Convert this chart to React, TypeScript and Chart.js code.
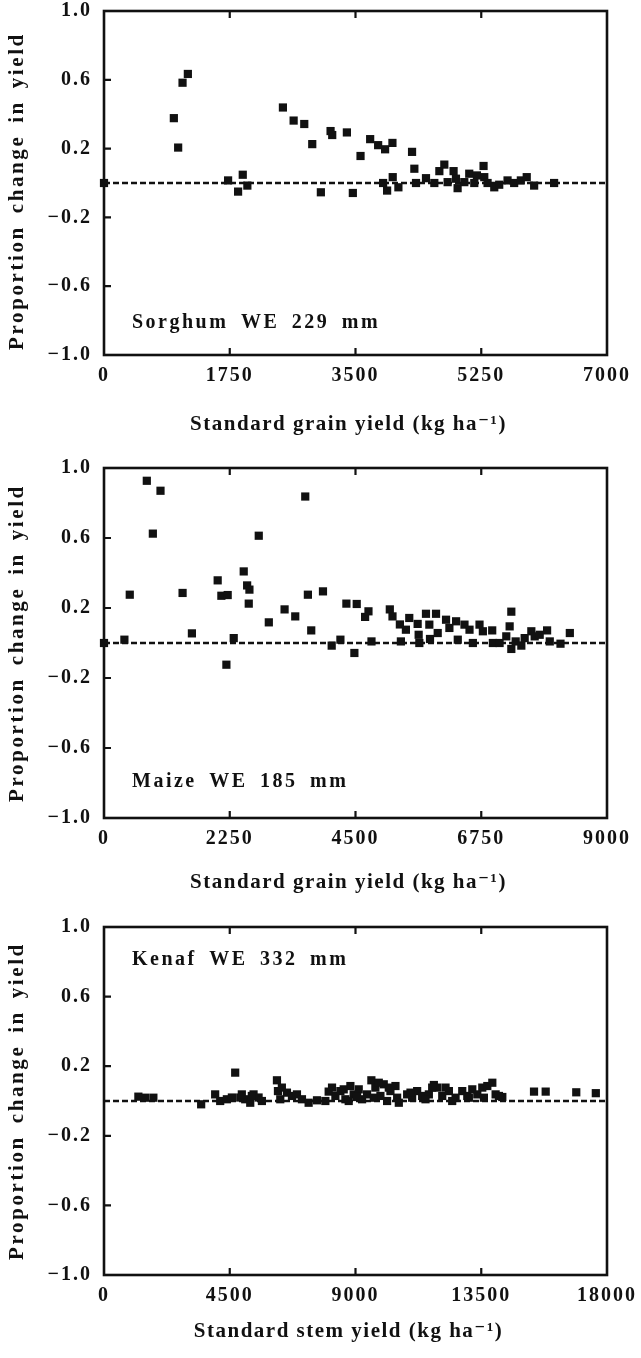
import React, { useEffect, useRef } from "react";
import { Chart, registerables } from "chart.js";

Chart.register(...registerables);

const FONT_FAMILY = "'Liberation Serif', 'Times New Roman', 'DejaVu Serif', serif";
const INK = "#111111";

// Shared y-axis tick values
const yTickValues = [-1, -0.6, -0.2, 0.2, 0.6, 1];
const yTitle = "Proportion change in yield";

// ---- Sorghum ----
const sorghumTicks = [0, 1750, 3500, 5250, 7000];
const sorghumX = [0, 972, 1032, 1093, 1167, 1727, 1866, 1931, 1995, 2490, 2639, 2787, 2898, 3018, 3153, 3176, 3380, 3463, 3570, 3704, 3815, 3912, 4014, 3884, 3940, 4018, 4097, 4287, 4319, 4342, 4481, 4597, 4667, 4736, 4782, 4865, 4921, 4898, 5014, 5083, 5153, 5190, 5282, 5292, 5338, 5431, 5500, 5616, 5708, 5801, 5883, 5986, 6264];
const sorghumY = [0, 0.377, 0.206, 0.583, 0.634, 0.015, -0.05, 0.048, -0.015, 0.439, 0.363, 0.343, 0.226, -0.054, 0.302, 0.279, 0.294, -0.058, 0.157, 0.255, 0.22, 0.196, 0.233, 0, -0.044, 0.034, -0.025, 0.181, 0.083, 0, 0.028, 0, 0.069, 0.107, 0.005, 0.069, -0.03, 0.025, 0.005, 0.054, 0, 0.044, 0.099, 0.034, 0, -0.025, -0.01, 0.015, 0, 0.015, 0.034, -0.015, 0];

// ---- Maize ----
const maizeTicks = [0, 2250, 4500, 6750, 9000];
const maizeX = [0, 365, 461, 766, 874, 1011, 1406, 1573, 2034, 2100, 2213, 2190, 2321, 2500, 2561, 2602, 2590, 2769, 2949, 3231, 3422, 3601, 3648, 3708, 3918, 4074, 4230, 4337, 4522, 4480, 4672, 4732, 4786, 5114, 5162, 5294, 5312, 5402, 5462, 5612, 5630, 5642, 5761, 5821, 5833, 5941, 5971, 6120, 6180, 6300, 6330, 6450, 6540, 6600, 6719, 6779, 6946, 6958, 7078, 7198, 7258, 7288, 7288, 7366, 7467, 7527, 7646, 7706, 7796, 7928, 7976, 8168, 8335];
const maizeY = [0, 0.019, 0.276, 0.927, 0.625, 0.87, 0.286, 0.055, 0.358, 0.27, 0.274, -0.124, 0.028, 0.409, 0.329, 0.305, 0.225, 0.613, 0.118, 0.192, 0.152, 0.837, 0.276, 0.072, 0.295, -0.015, 0.019, 0.225, 0.223, -0.057, 0.149, 0.181, 0.009, 0.192, 0.152, 0.106, 0.009, 0.076, 0.143, 0.109, 0.047, 0, 0.167, 0.105, 0.023, 0.167, 0.057, 0.133, 0.086, 0.124, 0.019, 0.105, 0.076, 0, 0.105, 0.067, 0.072, 0, 0, 0.038, 0.095, 0.179, -0.034, 0.009, -0.015, 0.028, 0.067, 0.038, 0.047, 0.072, 0.009, -0.004, 0.057];

// ---- Kenaf ----
const kenafTicks = [0, 4500, 9000, 13500, 18000];
const kenafX = [1230, 1470, 1767, 3477, 3978, 4158, 4397, 4695, 4576, 4875, 5054, 5233, 5352, 5532, 5651, 6189, 6225, 6308, 6547, 6726, 6905, 7084, 7323, 7622, 7921, 8160, 8280, 8459, 8638, 8817, 8936, 9116, 9235, 9414, 9568, 9711, 9892, 10011, 10130, 10250, 10430, 10490, 10848, 11027, 11206, 11385, 11625, 11804, 11924, 12104, 12342, 12581, 12820, 13000, 13179, 13358, 13537, 13717, 13896, 14014, 14254, 15388, 15806, 16900, 17600, 8040, 8578, 8757, 9056, 9654, 9833, 10191, 10550, 10968, 11505, 11744, 12222, 12460, 13057, 13595, 14133, 6365, 5290, 4932];
const kenafY = [0.025, 0.019, 0.019, -0.019, 0.038, 0, 0.01, 0.163, 0.02, 0.02, 0.01, -0.01, 0.038, 0.02, 0, 0.119, 0.057, 0.01, 0.048, 0.029, 0.038, 0.01, -0.01, 0.004, 0, 0.077, 0.029, 0.057, 0.01, 0.086, 0.038, 0.067, 0.01, 0.038, 0.119, 0.077, 0.029, 0.096, 0, 0.057, 0.086, 0.019, 0.038, 0.019, 0.057, 0.029, 0.038, 0.092, 0.077, 0.029, 0.057, 0.019, 0.057, 0.029, 0.067, 0.038, 0.077, 0.086, 0.105, 0.038, 0.023, 0.054, 0.054, 0.05, 0.045, 0.054, 0.067, 0, 0.023, 0.019, 0.105, 0.077, -0.01, 0.048, 0.01, 0.077, 0.077, 0, 0.019, 0.019, 0.029, 0.077, 0.029, 0.038];

type Panel = {
  xs: number[];
  ys: number[];
  ticks: number[];
  xTitle: string;
  label: string;
  canvasTop: number;
  canvasHeight: number;
  plotTop: number;
  plotBottom: number;
  labelY: number;
  xTitlePad: number;
  yTitleShift: number;
};

const PAGE_W = 641;
const PLOT_LEFT = 104;
const PLOT_RIGHT = 607;

const panels: Panel[] = [
  { xs: sorghumX, ys: sorghumY, ticks: sorghumTicks, xTitle: "Standard grain yield (kg ha\u207B\u00B9)", label: "Sorghum WE 229 mm", canvasTop: 0, canvasHeight: 445, plotTop: 11, plotBottom: 355, labelY: 328, xTitlePad: 8, yTitleShift: 8 },
  { xs: maizeX, ys: maizeY, ticks: maizeTicks, xTitle: "Standard grain yield (kg ha\u207B\u00B9)", label: "Maize WE 185 mm", canvasTop: 445, canvasHeight: 460, plotTop: 23, plotBottom: 373, labelY: 342, xTitlePad: 10, yTitleShift: 0 },
  { xs: kenafX, ys: kenafY, ticks: kenafTicks, xTitle: "Standard stem yield (kg ha\u207B\u00B9)", label: "Kenaf WE 332 mm", canvasTop: 905, canvasHeight: 453, plotTop: 22, plotBottom: 370, labelY: 60, xTitlePad: 14, yTitleShift: 0 },
];

function fmtY(v: number): string {
  const s = Math.abs(v).toFixed(1);
  return v < 0 ? "\u2212" + s : s;
}

function patchTitle(s: any, letter: string, word: string, dx: number, dy: number) {
  if (s.__patched) return;
  s.__patched = true;
  const orig = s.drawTitle;
  s.drawTitle = function (...args: any[]) {
    const ctx = this.ctx;
    ctx.save();
    ctx.letterSpacing = letter;
    ctx.wordSpacing = word;
    ctx.translate(dx, dy);
    orig.apply(this, args);
    ctx.restore();
  };
}

function PanelChart({ p }: { p: Panel }) {
  const ref = useRef<HTMLCanvasElement>(null);
  useEffect(() => {
    const canvas = ref.current;
    if (!canvas) return;
    const xMax = p.ticks[p.ticks.length - 1];
    const points = p.xs.map((x, i) => ({ x, y: p.ys[i] }));
    const tickFont = { family: FONT_FAMILY, size: 20, weight: "bold" as const, lineHeight: 1 };
    const titleFont = { family: FONT_FAMILY, size: 21, weight: "bold" as const, lineHeight: 1.2 };

    const framePlugin = {
      id: "frame",
      beforeDraw(chart: any) {
        chart.ctx.letterSpacing = "2px";
      },
      beforeDatasetsDraw(chart: any) {
        const { ctx, chartArea: a, scales } = chart;
        ctx.save();
        ctx.strokeStyle = INK;
        ctx.lineWidth = 2.6;
        ctx.strokeRect(a.left, a.top, a.right - a.left, a.bottom - a.top);
        ctx.lineWidth = 2.2;
        ctx.beginPath();
        for (const v of p.ticks.slice(1, -1)) {
          const x = scales.x.getPixelForValue(v);
          ctx.moveTo(x, a.bottom);
          ctx.lineTo(x, a.bottom - 7);
          ctx.moveTo(x, a.top);
          ctx.lineTo(x, a.top + 7);
        }
        for (const v of yTickValues.slice(1, -1)) {
          const y = scales.y.getPixelForValue(v);
          ctx.moveTo(a.left, y);
          ctx.lineTo(a.left + 7, y);
        }
        ctx.stroke();
        ctx.restore();
      },
      afterDraw(chart: any) {
        const ctx = chart.ctx;
        ctx.save();
        ctx.font = `bold 20px ${FONT_FAMILY}`;
        ctx.fillStyle = INK;
        ctx.letterSpacing = "2.5px";
        ctx.wordSpacing = "5px";
        ctx.textBaseline = "alphabetic";
        ctx.textAlign = "left";
        ctx.fillText(p.label, chart.chartArea.left + 28, p.labelY);
        ctx.restore();
      },
    };

    const chart = new Chart(canvas, {
      type: "scatter",
      data: {
        datasets: [
          {
            data: points,
            pointStyle: "rect",
            pointRadius: 5.8,
            pointHoverRadius: 5.8,
            backgroundColor: INK,
            borderWidth: 0,
            clip: false,
            order: 0,
          } as any,
          {
            type: "line",
            data: [
              { x: 0, y: 0 },
              { x: xMax, y: 0 },
            ],
            borderColor: INK,
            borderWidth: 2.5,
            borderDash: [6, 3],
            pointRadius: 0,
            showLine: true,
            fill: false,
            order: 1,
          } as any,
        ],
      },
      options: {
        animation: false,
        responsive: false,
        maintainAspectRatio: false,
        devicePixelRatio: 1,
        events: [],
        layout: { padding: { left: 0, right: PAGE_W - PLOT_RIGHT, top: p.plotTop, bottom: 0 } },
        plugins: { legend: { display: false }, tooltip: { enabled: false } },
        scales: {
          x: {
            type: "linear",
            min: 0,
            max: xMax,
            grid: { display: false, drawTicks: false },
            border: { display: false },
            afterBuildTicks: (s: any) => {
              s.ticks = p.ticks.map((v) => ({ value: v }));
            },
            afterFit: (s: any) => {
              s.height = p.canvasHeight - p.plotBottom;
              s.paddingLeft = 0;
              s.paddingRight = 0;
              patchTitle(s, "1.5px", "0px", -7, 0);
            },
            ticks: {
              font: tickFont,
              color: INK,
              padding: 11,
              maxRotation: 0,
              autoSkip: false,
              callback: (v: any) => String(v),
            },
            title: {
              display: true,
              text: p.xTitle,
              font: titleFont,
              color: INK,
              padding: { top: 0, bottom: p.xTitlePad },
            },
          },
          y: {
            type: "linear",
            min: -1,
            max: 1,
            grid: { display: false, drawTicks: false },
            border: { display: false },
            afterBuildTicks: (s: any) => {
              s.ticks = yTickValues.map((v) => ({ value: v }));
            },
            afterFit: (s: any) => {
              s.width = PLOT_LEFT;
              s.paddingTop = 0;
              s.paddingBottom = 0;
              patchTitle(s, "2.6px", "4px", 0, p.yTitleShift);
            },
            ticks: {
              font: tickFont,
              color: INK,
              padding: 12,
              autoSkip: false,
              callback: (v: any) => fmtY(Number(v)),
            },
            title: {
              display: true,
              text: yTitle,
              font: titleFont,
              color: INK,
              padding: { top: 5, bottom: 0 },
            },
          },
        },
      } as any,
      plugins: [framePlugin],
    });
    return () => chart.destroy();
  }, [p]);

  return (
    <canvas
      ref={ref}
      width={PAGE_W}
      height={p.canvasHeight}
      style={{ position: "absolute", left: 0, top: p.canvasTop, width: PAGE_W, height: p.canvasHeight }}
    />
  );
}

export default function App() {
  return (
    <div style={{ position: "absolute", left: 0, top: 0, width: PAGE_W, height: 1358, background: "#ffffff", overflow: "hidden" }}>
      {panels.map((p, i) => (
        <PanelChart key={i} p={p} />
      ))}
    </div>
  );
}
